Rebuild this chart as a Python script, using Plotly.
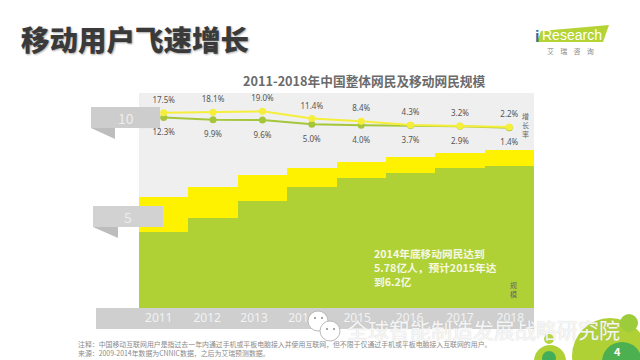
import plotly.graph_objects as go

years = ["2011", "2012", "2013", "2014", "2015", "2016", "2017", "2018"]
total_users = [5.31, 5.79, 6.36, 6.70, 6.99, 7.22, 7.42, 7.56]
mobile_users = [3.64, 4.32, 5.13, 5.78, 6.20, 6.47, 6.70, 6.81]
total_growth = [17.5, 18.1, 19.0, 11.4, 8.4, 4.3, 3.2, 2.2]
mobile_growth = [12.3, 9.9, 9.6, 5.0, 4.0, 3.7, 2.9, 1.4]
tick_shift = [-0.1, -0.12, -0.17, -0.2, -0.08, -0.02, 0.0, 0.02]

W, H = 640, 360
L, R, T, B = 139, 534, 93, 308
CJK = "Noto Sans CJK SC"

def px(x):
    return (x - L) / (R - L)

def py(y):
    return (B - y) / (B - T)

def poly(points):
    return "M" + " L".join(f"{px(x):.5f},{py(y):.5f}" for x, y in points) + " Z"

def rect(x0, y0, x1, y1, color, layer="above", line=None):
    return dict(type="rect", xref="paper", yref="paper", x0=px(x0), x1=px(x1), y0=py(y1), y1=py(y0),
                fillcolor=color, line=line or dict(width=0), layer=layer)

def circle(cx, cy, r, color, layer="above", line=None):
    return dict(type="circle", xref="paper", yref="paper", x0=px(cx - r), x1=px(cx + r), y0=py(cy + r), y1=py(cy - r),
                fillcolor=color, line=line or dict(width=0), layer=layer)

def path(points, color):
    return dict(type="path", xref="paper", yref="paper", path=poly(points), fillcolor=color, line=dict(width=0), layer="above")

def note(text, x, y, size, color, anchor="center", bold=False, shadow=None, family=CJK, weight=700):
    font = dict(size=size, color=color, family=family)
    if bold:
        font["weight"] = weight
    if shadow:
        font["shadow"] = shadow
    return dict(text=text, xref="paper", yref="paper", x=px(x), y=py(y), showarrow=False, xanchor=anchor,
                yanchor="middle", font=font, align="left")

positions = list(range(len(years)))
label_font = dict(size=8, color="#555", family="Noto Sans")
fig = go.Figure()
fig.add_trace(go.Bar(x=positions, y=total_users, width=1, marker=dict(color="#FFF200", line=dict(width=0)), name="整体网民"))
fig.add_trace(go.Bar(x=positions, y=mobile_users, width=1, marker=dict(color="#AFD136", line=dict(width=0)), name="移动网民"))
fig.add_trace(go.Scatter(x=positions, y=mobile_growth, yaxis="y2", mode="lines+markers",
                         line=dict(color="#A5C63B", width=2), marker=dict(size=7, color="#A5C63B"), name="移动增长率"))
fig.add_trace(go.Scatter(x=positions, y=total_growth, yaxis="y2", mode="lines+markers",
                         line=dict(color="#F5EE3A", width=2), marker=dict(size=7, color="#F5EE3A"), name="整体增长率"))
fig.add_trace(go.Scatter(x=positions, y=mobile_growth, yaxis="y2", mode="markers+text",
                         text=[f"{v:.1f}%" for v in mobile_growth], textposition="bottom center", textfont=label_font,
                         marker=dict(size=17, opacity=0), name="移动增长率标签"))
fig.add_trace(go.Scatter(x=positions, y=total_growth, yaxis="y2", mode="markers+text",
                         text=[f"{v:.1f}%" for v in total_growth], textposition="top center", textfont=label_font,
                         marker=dict(size=11, opacity=0), name="整体增长率标签"))

shapes = [
    rect(96, 308, 534, 329, "#CFCFCF", layer="below"),
    path([(91, 128), (115, 128), (115, 139)], "#BDBDBD"),
    rect(91, 107, 139, 128, "#CDCDCD"),
    dict(type="rect", xref="x", yref="y", x0=-0.5, x1=-0.075, y0=8.61, y1=9.62,
         fillcolor="#CDCDCD", line=dict(width=0), layer="between"),
    path([(93, 227), (118, 227), (118, 238)], "#BDBDBD"),
    rect(93, 206, 163, 227, "#D2D2D2"),
    path([(541, 31), (609, 25), (603, 42), (537, 42)], "#B5D334"),
    circle(610, 356, 38, "#AFD136"),
    circle(622, 362, 20, "#4CAF50"),
    circle(629, 323, 9, "#9CCB3B"),
    circle(550, 361, 16, "#AFD136"),
    circle(549, 339, 5, "#B7D63C"),
    circle(549, 358, 7, "#43AE5A"),
    circle(318, 321, 10, "#FFFFFF", line=dict(color="#BBBBBB", width=1)),
    circle(330, 331, 10, "#FFFFFF", line=dict(color="#BBBBBB", width=1)),
    circle(315, 318, 1, "#888888"),
    circle(322, 318, 1, "#888888"),
    circle(327, 329, 1, "#888888"),
    circle(334, 329, 1, "#888888"),
]

annotations = [
    note("移动用户飞速增长", 19, 38, 28.5, "#3A3A3A", "left", True, "1px 1px 2px #AAAAAA", weight=900),
    note("2011-2018年中国整体网民及移动网民规模", 364, 80, 12.7, "#6B6B6B", bold=True),
    note("10", 126, 118, 14, "#EDEDED"),
    note("5", 128, 217, 14, "#EDEDED"),
    note("增<br>长<br>率", 525, 125, 7, "#666666"),
    note("规<br>模", 513, 289, 7, "#666666"),
    note("2014年底移动网民达到<br>5.78亿人，预计2015年达<br>到6.2亿", 372, 267, 10.7, "#F6F8E4", "left", True),
    note("注释：中国移动互联网用户是指过去一年内通过手机或平板电脑接入并使用互联网，但不限于仅通过手机或平板电脑接入互联网的用户。<br>来源：2009-2014年数据为CNNIC数据，之后为艾瑞预测数据。",
         76, 348, 6.9, "#8A8A8A", "left"),
    note("全球智能制造发展战略研究院", 345, 329, 21, "rgba(255,255,255,0.85)", "left", shadow="0px 0px 1px #BBBBBB"),
    note("4", 617, 351, 11, "#FFFFFF", bold=True),
    note("i", 533, 36, 16, "#2F6F9F", "left", True, family="Liberation Sans"),
    note("Research", 540, 35, 14, "#FFFFFF", "left", family="Liberation Sans"),
    note("艾    瑞    咨    询", 570, 51, 7, "#888888"),
]

fig.update_layout(
    width=W, height=H, margin=dict(l=L, r=W - R, t=T, b=H - B, pad=0), autosize=False,
    paper_bgcolor="#FFFFFF", plot_bgcolor="#EFEFEF", barmode="overlay", bargap=0, showlegend=False,
    xaxis=dict(range=[-0.5, 7.5], tickvals=[p + s for p, s in zip(positions, tick_shift)], ticktext=years,
               showgrid=False, zeroline=False, ticks="", ticklabelstandoff=1,
               tickfont=dict(size=12, color="#F2F2F2", family="Noto Sans")),
    yaxis=dict(range=[0, 10.29], showticklabels=False, showgrid=False, zeroline=False, ticks=""),
    yaxis2=dict(range=[-192.5, 38.7], overlaying="y", side="right", visible=False),
    shapes=shapes, annotations=annotations,
)
fig.write_html("out.html", config=dict(displayModeBar=False), post_script="document.body.style.margin='0';")
